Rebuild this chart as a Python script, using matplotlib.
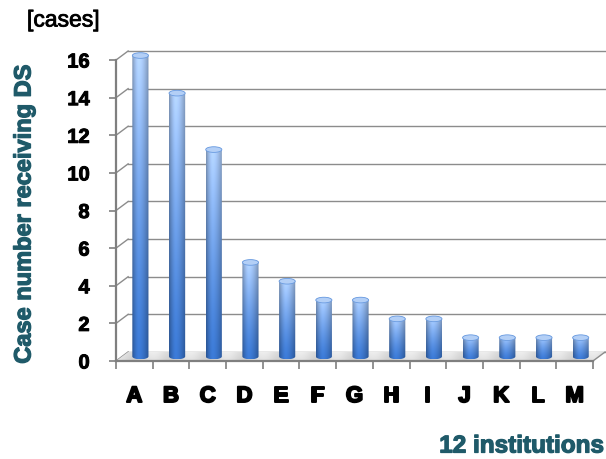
import numpy as np
import matplotlib.pyplot as plt
import matplotlib.patheffects as pe
from matplotlib.patches import Polygon, Ellipse

plt.rcParams['font.family'] = ['Liberation Sans', 'DejaVu Sans']

# data
institutions = ['A', 'B', 'C', 'D', 'E', 'F', 'G', 'H', 'I', 'J', 'K', 'L', 'M']
cases = [16, 14, 11, 5, 4, 3, 3, 2, 2, 1, 1, 1, 1]
yticks = [0, 2, 4, 6, 8, 10, 12, 14, 16]

teal = '#1f5a69'
axis_gray = '#7f7f7f'
grid_gray = '#8c8c8c'

# pseudo-3d depth offset (data units) and cylinder size
dx, dy = 0.33, 0.48
bar_w = 0.44
ey = 0.15

light = np.array([0.68, 0.80, 0.97])
dark = np.array([0.22, 0.45, 0.79])


def heavy(color, w=0.9):
    return [pe.withStroke(linewidth=w, foreground=color)]


def cylinder_rgb():
    u = np.linspace(0, 1, 40)
    t = np.linspace(0, 1, 120)[:, None, None]
    col = dark + (light - dark) * t ** 1.3
    d = np.where(u < 0.4, (0.4 - u) / 0.4, (u - 0.4) / 0.6)
    s = 1.08 - 0.35 * d ** 1.6
    return np.clip(col * s[None, :, None], 0, 1)


def draw_cylinder(ax, xc, val, img):
    x0, x1 = xc - bar_w / 2, xc + bar_w / 2
    y0, y1 = dy / 2, val + dy / 2
    a = np.linspace(np.pi, 2 * np.pi, 30)
    b = np.linspace(0, np.pi, 30)
    pts = np.vstack([
        np.column_stack([xc + bar_w / 2 * np.cos(a), y0 + ey * np.sin(a)]),
        np.column_stack([xc + bar_w / 2 * np.cos(b), y1 + ey * np.sin(b)]),
    ])
    clip = Polygon(pts, closed=True, transform=ax.transData)
    im = ax.imshow(img, extent=(x0, x1, y0 - ey, y1 + ey), origin='lower',
                   aspect='auto', interpolation='bilinear', zorder=3)
    im.set_clip_path(clip)
    ax.add_patch(Ellipse((xc, y1), bar_w, 2 * ey, facecolor='#b3cff6',
                         edgecolor='#6a9be0', lw=0.6, zorder=4))


fig = plt.figure(figsize=(6.06, 4.59), dpi=100)
ax = fig.add_axes([116 / 606, 98 / 459, 490 / 606, 321 / 459])
n = len(institutions)

# back wall grid + left wall diagonals
for v in yticks:
    ax.plot([-0.5 + dx, n - 0.5 + dx], [v + dy, v + dy], color=grid_gray, lw=1, zorder=1)
    ax.plot([-0.5, -0.5 + dx], [v, v + dy], color=grid_gray, lw=1, zorder=1)

# floor: light gray with soft lighter bands between the bars
floor_pts = [(-0.5, 0), (n - 0.5, 0), (n - 0.5 + dx, dy), (-0.5 + dx, dy)]
floor = Polygon(floor_pts, closed=True, transform=ax.transData)
fx = np.linspace(-0.5, n - 0.5 + dx, 400)
band = 0.5 + 0.5 * np.cos(2 * np.pi * (fx - 0.5))
fv = np.linspace(0, 1, 20)[:, None]
gray = 0.80 + 0.06 * fv + 0.08 * band[None, :]
fimg = np.repeat(np.clip(gray, 0, 1)[:, :, None], 3, axis=2)
fim = ax.imshow(fimg, extent=(-0.5, n - 0.5 + dx, 0, dy), origin='lower',
                aspect='auto', interpolation='bilinear', zorder=2)
fim.set_clip_path(floor)
ax.plot([n - 0.5, n - 0.5 + dx], [0, dy], color=grid_gray, lw=1, zorder=2)

img = cylinder_rgb()
for i, v in enumerate(cases):
    draw_cylinder(ax, i + dx / 2, v, img)

ax.set_xlim(-0.5, -0.5 + 490 / 36.69)
ax.set_ylim(0, 321 / 18.81)

for s in ['top', 'right']:
    ax.spines[s].set_visible(False)
ax.spines['left'].set_bounds(0, 16)
ax.spines['bottom'].set_bounds(-0.5, n - 0.5)
for s in ['left', 'bottom']:
    ax.spines[s].set_color(axis_gray)
    ax.spines[s].set_linewidth(1.6)
    ax.spines[s].set_zorder(5)

ax.set_yticks(yticks)
ax.set_yticklabels([str(v) for v in yticks], fontsize=14.5, fontweight='bold')
ax.tick_params(axis='y', length=5, width=1.2, color=axis_gray, pad=14)
for lbl in ax.get_yticklabels():
    lbl.set_path_effects(heavy('black', 0.7))

ax.set_xticks(range(n))
ax.set_xticklabels(institutions, fontsize=16, fontweight='bold')
ax.set_xticks(np.arange(-0.5, n, 1), minor=True)
ax.tick_params(axis='x', which='major', length=0, pad=18)
ax.tick_params(axis='x', which='minor', length=6, width=1.2, color=axis_gray)
for lbl in ax.get_xticklabels():
    lbl.set_path_effects(heavy('black', 1.4))

fig.text(27 / 606, 1 - 20 / 459, '[cases]', fontsize=16.5, ha='left', va='center',
         path_effects=heavy('black', 0.6))
fig.text(24 / 606, 1 - 214 / 459, 'Case number receiving DS', rotation=90,
         color=teal, fontsize=17, fontweight='bold', ha='center', va='center',
         path_effects=heavy(teal, 0.9))
fig.text(604 / 606, 1 - 446 / 459, '12 institutions', color=teal,
         fontsize=17.5, fontweight='bold', ha='right', va='center',
         path_effects=heavy(teal, 0.9))

fig.savefig('out.png', dpi=100)
